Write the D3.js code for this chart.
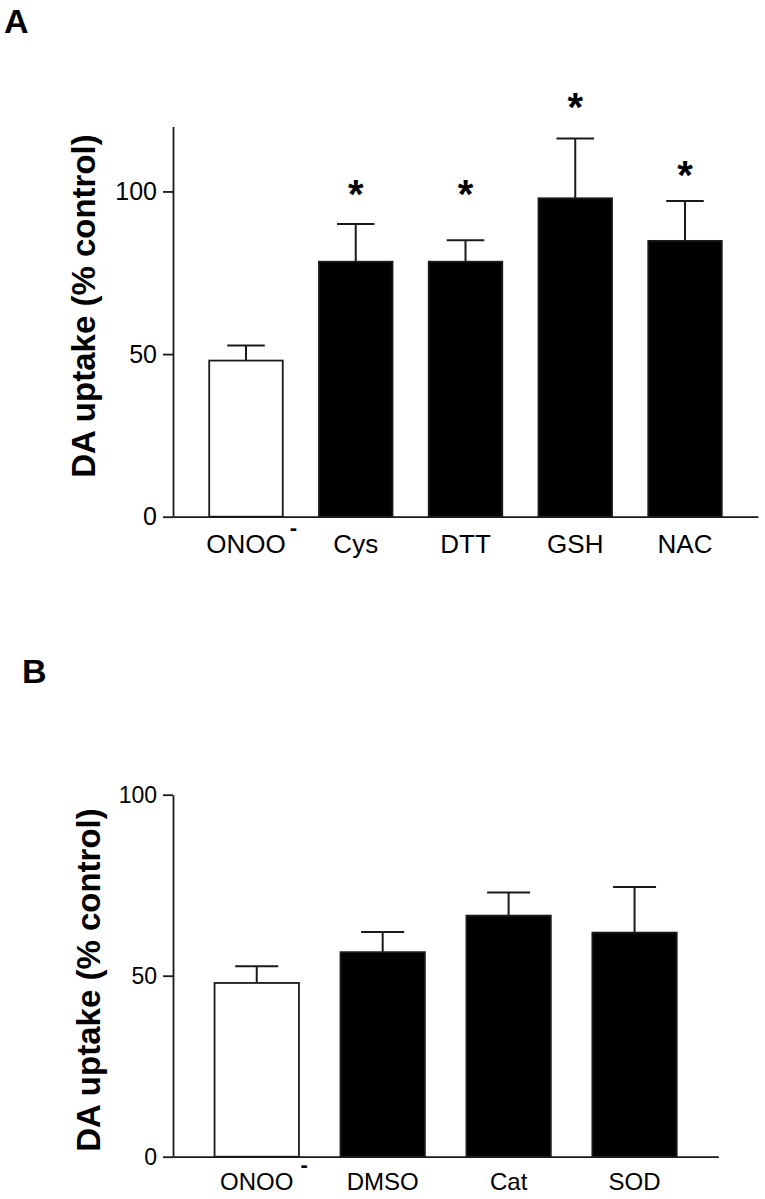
<!DOCTYPE html>
<html>
<head>
<meta charset="utf-8">
<script src="https://cdn.jsdelivr.net/npm/d3@7"></script>
<style>
  html, body { margin: 0; padding: 0; background: #fff; }
  svg { display: block; font-family: "Liberation Sans", Arial, sans-serif; }
  .domain, .tick line { stroke: #1a1a1a; stroke-width: 1.8; }
  .tick text { fill: #000; }
</style>
</head>
<body>
<div id="chart-container"></div>
<script>
// Panel A: thiol reagents
const categoriesA = ['ONOO-', 'Cys', 'DTT', 'GSH', 'NAC'];
const meansA = [48, 78.4, 78.4, 97.9, 84.8];
const errorsA = [4.6, 11.6, 6.6, 18.4, 12.3];
const starLevelsA = [null, 102, 102, 128.6, 107.9];
const ticksA = [0, 50, 100];
const yMaxA = 120;

// Panel B: scavengers
const categoriesB = ['ONOO-', 'DMSO', 'Cat', 'SOD'];
const meansB = [48, 56.5, 66.6, 61.9];
const errorsB = [4.6, 5.6, 6.4, 12.6];
const starLevelsB = [null, null, null, null];
const ticksB = [0, 50, 100];
const yMaxB = 100;

const yTitle = 'DA uptake (% control)';

const width = 765;
const height = 1199;
const ink = '#1a1a1a';

const svg = d3
  .select('#chart-container')
  .append('svg')
  .attr('width', width)
  .attr('height', height);

function drawPanel(opts) {
  const g = svg.append('g');

  const x = d3
    .scaleBand()
    .domain(opts.categories)
    .range([opts.left, opts.right])
    .padding(0.33);

  const y = d3
    .scaleLinear()
    .domain([0, opts.yMax])
    .range([opts.bottom, opts.top]);

  // y axis
  g.append('g')
    .attr('transform', `translate(${opts.left},0)`)
    .call(
      d3.axisLeft(y).tickValues(opts.ticks).tickSize(10).tickSizeOuter(0).tickPadding(6)
    )
    .call(a => a.selectAll('text').attr('font-size', opts.tickFont));

  // x axis
  const xAxis = g
    .append('g')
    .attr('transform', `translate(0,${opts.bottom})`)
    .call(d3.axisBottom(x).tickSize(0).tickSizeOuter(0).tickPadding(opts.labelPad));

  xAxis.selectAll('text').each(function (d) {
    const text = d3.select(this).attr('font-size', opts.labelFont).text(null);
    // a trailing '-' is the charge of the ion, set as superscript
    const isIon = d.endsWith('-');
    text.append('tspan').text(isIon ? d.slice(0, -1) : d);
    if (isIon) {
      const sup = text
        .append('tspan')
        .attr('dx', opts.supGap)
        .attr('dy', opts.supShift)
        .attr('font-size', 22)
        .attr('font-weight', 'bold')
        .text('-');
      const w = sup.node().getComputedTextLength() + opts.supGap;
      text.attr('transform', `translate(${w / 2},0)`);
    }
  });

  const bw = x.bandwidth();
  const rows = opts.categories.map((c, i) => ({
    c,
    i,
    mean: opts.means[i],
    err: opts.errors[i],
    star: opts.stars[i],
  }));

  g.selectAll('.bar')
    .data(rows)
    .join('rect')
    .attr('class', 'bar')
    .attr('x', d => x(d.c))
    .attr('width', bw)
    .attr('y', d => y(d.mean))
    .attr('height', d => y(0) - y(d.mean))
    .attr('fill', d => (d.i === 0 ? '#fff' : '#000'))
    .attr('stroke', ink)
    .attr('stroke-width', 1.8);

  const cx = d => x(d.c) + bw / 2;
  const capHalf = bw * 0.255;

  g.selectAll('.err')
    .data(rows)
    .join('path')
    .attr('class', 'err')
    .attr('fill', 'none')
    .attr('stroke', ink)
    .attr('stroke-width', 2)
    .attr('d', d => {
      const top = y(d.mean + d.err);
      return `M${cx(d)},${y(d.mean)}V${top}M${cx(d) - capHalf},${top}H${cx(d) + capHalf}`;
    });

  g.selectAll('.star')
    .data(rows.filter(d => d.star !== null))
    .join('text')
    .attr('class', 'star')
    .attr('x', cx)
    .attr('y', d => y(d.star) + 23)
    .attr('text-anchor', 'middle')
    .attr('font-size', 40)
    .attr('font-weight', 'bold')
    .text('*');

  // axis title
  g.append('text')
    .attr('transform', `translate(${opts.titleX},${opts.titleY}) rotate(-90)`)
    .attr('text-anchor', 'middle')
    .attr('font-size', 33)
    .attr('font-weight', 'bold')
    .text(yTitle);

  // panel letter
  g.append('text')
    .attr('x', opts.letterX)
    .attr('y', opts.letterY)
    .attr('font-size', 34)
    .attr('font-weight', 'bold')
    .text(opts.letter);
}

drawPanel({
  letter: 'A',
  letterX: 4,
  letterY: 33,
  categories: categoriesA,
  means: meansA,
  errors: errorsA,
  stars: starLevelsA,
  ticks: ticksA,
  yMax: yMaxA,
  left: 173,
  right: 758,
  top: 126.4,
  bottom: 516.7,
  tickFont: 25,
  labelFont: 26,
  labelPad: 18,
  supGap: 4,
  supShift: -18,
  titleX: 95,
  titleY: 306,
});

drawPanel({
  letter: 'B',
  letterX: 22,
  letterY: 683,
  categories: categoriesB,
  means: meansB,
  errors: errorsB,
  stars: starLevelsB,
  ticks: ticksB,
  yMax: yMaxB,
  left: 173,
  right: 718.3,
  top: 794.7,
  bottom: 1156.7,
  tickFont: 23,
  labelFont: 24,
  labelPad: 16,
  supGap: 7,
  supShift: -18,
  titleX: 100,
  titleY: 980,
});
</script>
</body>
</html>
